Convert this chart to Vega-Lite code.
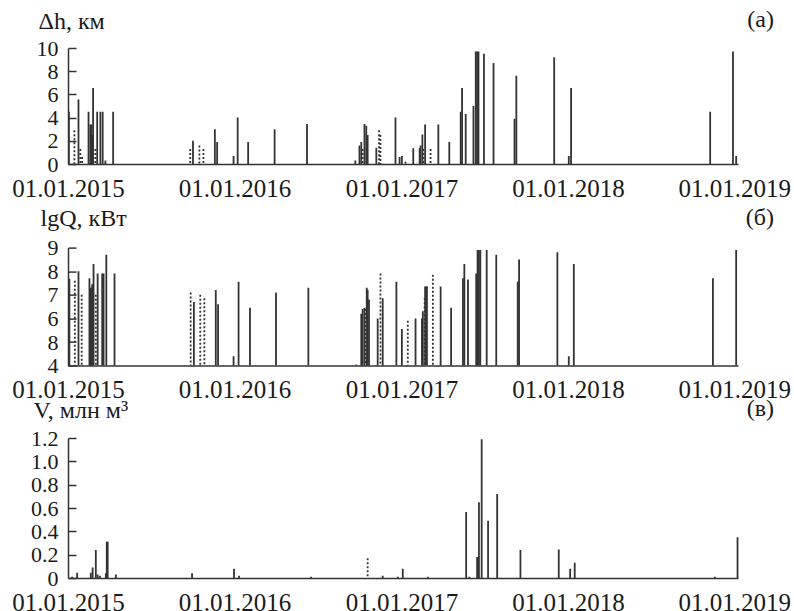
{
  "$schema": "https://vega.github.io/schema/vega-lite/v6.json",
  "padding": {"left": 11, "top": 8, "right": 0, "bottom": 0},
  "spacing": -6,
  "config": {
    "view": {"stroke": null},
    "font": "Liberation Serif",
    "axis": {"domainColor": "#333333", "domainWidth": 1.5, "grid": false, "labelColor": "#1a1a1a", "titleColor": "#1a1a1a", "labelFont": "Liberation Serif", "titleFont": "Liberation Serif", "titleFontWeight": "normal", "tickColor": "#333333", "tickWidth": 1.5},
    "title": {"font": "Liberation Serif", "fontSize": 24, "fontWeight": "normal", "anchor": "end", "color": "#1a1a1a", "frame": "group", "baseline": "alphabetic", "offset": 0}
  },
  "datasets": {
    "dh": [
      {"date": "2015-01-03", "v": 4.5, "s": "solid"},
      {"date": "2015-01-15", "v": 2.9, "s": "dotted"},
      {"date": "2015-01-24", "v": 5.55, "s": "solid"},
      {"date": "2015-01-28", "v": 1.3, "s": "dotted"},
      {"date": "2015-02-01", "v": 0.6, "s": "dotted"},
      {"date": "2015-02-15", "v": 4.5, "s": "solid"},
      {"date": "2015-02-19", "v": 3.4, "s": "solid"},
      {"date": "2015-02-21", "v": 3.4, "s": "solid"},
      {"date": "2015-02-23", "v": 2.5, "s": "solid"},
      {"date": "2015-02-25", "v": 6.55, "s": "solid"},
      {"date": "2015-03-02", "v": 1.3, "s": "dotted"},
      {"date": "2015-03-06", "v": 4.5, "s": "solid"},
      {"date": "2015-03-13", "v": 4.5, "s": "solid"},
      {"date": "2015-03-18", "v": 4.5, "s": "solid"},
      {"date": "2015-03-24", "v": 0.3, "s": "solid"},
      {"date": "2015-04-10", "v": 4.5, "s": "solid"},
      {"date": "2015-09-26", "v": 1.3, "s": "dotted"},
      {"date": "2015-10-02", "v": 2.0, "s": "solid"},
      {"date": "2015-10-16", "v": 1.6, "s": "dotted"},
      {"date": "2015-10-25", "v": 1.3, "s": "dotted"},
      {"date": "2015-11-19", "v": 3.0, "s": "solid"},
      {"date": "2015-11-24", "v": 1.9, "s": "solid"},
      {"date": "2015-12-30", "v": 0.7, "s": "solid"},
      {"date": "2016-01-08", "v": 4.0, "s": "solid"},
      {"date": "2016-01-31", "v": 1.9, "s": "solid"},
      {"date": "2016-03-29", "v": 3.0, "s": "solid"},
      {"date": "2016-06-08", "v": 3.45, "s": "solid"},
      {"date": "2016-09-22", "v": 0.3, "s": "solid"},
      {"date": "2016-10-01", "v": 1.6, "s": "solid"},
      {"date": "2016-10-05", "v": 1.9, "s": "solid"},
      {"date": "2016-10-08", "v": 1.3, "s": "dotted"},
      {"date": "2016-10-12", "v": 3.45, "s": "solid"},
      {"date": "2016-10-16", "v": 3.3, "s": "solid"},
      {"date": "2016-10-19", "v": 2.5, "s": "solid"},
      {"date": "2016-11-07", "v": 1.4, "s": "solid"},
      {"date": "2016-11-13", "v": 2.9, "s": "dotted"},
      {"date": "2016-11-16", "v": 2.5, "s": "dotted"},
      {"date": "2016-12-19", "v": 4.0, "s": "solid"},
      {"date": "2016-12-28", "v": 0.6, "s": "solid"},
      {"date": "2017-01-02", "v": 0.7, "s": "solid"},
      {"date": "2017-01-10", "v": 0.2, "s": "dotted"},
      {"date": "2017-01-27", "v": 1.35, "s": "solid"},
      {"date": "2017-02-10", "v": 1.35, "s": "solid"},
      {"date": "2017-02-12", "v": 1.6, "s": "solid"},
      {"date": "2017-02-16", "v": 2.55, "s": "solid"},
      {"date": "2017-02-18", "v": 1.3, "s": "dotted"},
      {"date": "2017-02-22", "v": 3.4, "s": "solid"},
      {"date": "2017-03-06", "v": 1.3, "s": "dotted"},
      {"date": "2017-03-23", "v": 3.4, "s": "solid"},
      {"date": "2017-04-16", "v": 1.9, "s": "solid"},
      {"date": "2017-05-11", "v": 4.5, "s": "solid"},
      {"date": "2017-05-14", "v": 6.55, "s": "solid"},
      {"date": "2017-05-22", "v": 4.3, "s": "solid"},
      {"date": "2017-06-08", "v": 5.0, "s": "solid"},
      {"date": "2017-06-13", "v": 9.7, "s": "solid"},
      {"date": "2017-06-16", "v": 9.7, "s": "solid"},
      {"date": "2017-06-19", "v": 9.7, "s": "solid"},
      {"date": "2017-07-01", "v": 9.5, "s": "solid"},
      {"date": "2017-07-22", "v": 8.7, "s": "solid"},
      {"date": "2017-09-06", "v": 3.9, "s": "solid"},
      {"date": "2017-09-10", "v": 7.6, "s": "solid"},
      {"date": "2017-12-02", "v": 9.2, "s": "solid"},
      {"date": "2018-01-03", "v": 0.7, "s": "solid"},
      {"date": "2018-01-08", "v": 6.55, "s": "solid"},
      {"date": "2018-11-09", "v": 4.5, "s": "solid"},
      {"date": "2018-12-29", "v": 9.7, "s": "solid"},
      {"date": "2019-01-05", "v": 0.7, "s": "solid"}
    ],
    "lgq": [
      {"date": "2015-01-04", "v": 7.68, "s": "solid"},
      {"date": "2015-01-16", "v": 7.6, "s": "dotted"},
      {"date": "2015-01-24", "v": 8.0, "s": "solid"},
      {"date": "2015-01-31", "v": 7.0, "s": "dotted"},
      {"date": "2015-02-17", "v": 7.7, "s": "solid"},
      {"date": "2015-02-19", "v": 7.3, "s": "solid"},
      {"date": "2015-02-21", "v": 7.3, "s": "solid"},
      {"date": "2015-02-23", "v": 7.45, "s": "solid"},
      {"date": "2015-02-26", "v": 8.3, "s": "solid"},
      {"date": "2015-03-03", "v": 7.0, "s": "dotted"},
      {"date": "2015-03-07", "v": 7.9, "s": "solid"},
      {"date": "2015-03-17", "v": 7.9, "s": "solid"},
      {"date": "2015-03-20", "v": 7.9, "s": "solid"},
      {"date": "2015-03-26", "v": 8.7, "s": "solid"},
      {"date": "2015-04-13", "v": 7.9, "s": "solid"},
      {"date": "2015-09-27", "v": 7.1, "s": "dotted"},
      {"date": "2015-10-04", "v": 6.7, "s": "solid"},
      {"date": "2015-10-18", "v": 7.0, "s": "dotted"},
      {"date": "2015-10-27", "v": 6.85, "s": "dotted"},
      {"date": "2015-11-21", "v": 7.2, "s": "solid"},
      {"date": "2015-11-26", "v": 6.6, "s": "solid"},
      {"date": "2015-12-30", "v": 4.4, "s": "solid"},
      {"date": "2016-01-10", "v": 7.55, "s": "solid"},
      {"date": "2016-02-04", "v": 6.45, "s": "solid"},
      {"date": "2016-04-01", "v": 7.1, "s": "solid"},
      {"date": "2016-06-11", "v": 7.3, "s": "solid"},
      {"date": "2016-09-24", "v": 4.05, "s": "solid"},
      {"date": "2016-10-05", "v": 6.2, "s": "solid"},
      {"date": "2016-10-08", "v": 6.4, "s": "solid"},
      {"date": "2016-10-12", "v": 6.45, "s": "solid"},
      {"date": "2016-10-14", "v": 6.4, "s": "dotted"},
      {"date": "2016-10-17", "v": 7.3, "s": "solid"},
      {"date": "2016-10-19", "v": 7.2, "s": "solid"},
      {"date": "2016-10-22", "v": 6.8, "s": "solid"},
      {"date": "2016-11-10", "v": 6.0, "s": "solid"},
      {"date": "2016-11-16", "v": 7.9, "s": "dotted"},
      {"date": "2016-11-21", "v": 6.85, "s": "solid"},
      {"date": "2016-12-21", "v": 7.55, "s": "solid"},
      {"date": "2017-01-02", "v": 5.55, "s": "solid"},
      {"date": "2017-01-15", "v": 5.9, "s": "dotted"},
      {"date": "2017-02-01", "v": 6.0, "s": "solid"},
      {"date": "2017-02-15", "v": 6.0, "s": "solid"},
      {"date": "2017-02-17", "v": 6.3, "s": "solid"},
      {"date": "2017-02-21", "v": 6.85, "s": "dotted"},
      {"date": "2017-02-22", "v": 7.35, "s": "solid"},
      {"date": "2017-02-24", "v": 7.35, "s": "dotted"},
      {"date": "2017-02-26", "v": 7.35, "s": "solid"},
      {"date": "2017-03-11", "v": 7.85, "s": "dotted"},
      {"date": "2017-03-28", "v": 7.35, "s": "solid"},
      {"date": "2017-04-20", "v": 6.45, "s": "solid"},
      {"date": "2017-05-16", "v": 7.7, "s": "solid"},
      {"date": "2017-05-19", "v": 8.3, "s": "solid"},
      {"date": "2017-05-27", "v": 7.65, "s": "solid"},
      {"date": "2017-06-14", "v": 7.9, "s": "solid"},
      {"date": "2017-06-17", "v": 8.9, "s": "solid"},
      {"date": "2017-06-20", "v": 8.9, "s": "solid"},
      {"date": "2017-06-23", "v": 8.9, "s": "solid"},
      {"date": "2017-07-07", "v": 8.9, "s": "solid"},
      {"date": "2017-07-28", "v": 8.7, "s": "solid"},
      {"date": "2017-09-13", "v": 7.55, "s": "solid"},
      {"date": "2017-09-16", "v": 8.5, "s": "solid"},
      {"date": "2017-12-09", "v": 8.8, "s": "solid"},
      {"date": "2018-01-03", "v": 4.4, "s": "solid"},
      {"date": "2018-01-14", "v": 8.3, "s": "solid"},
      {"date": "2018-11-15", "v": 7.7, "s": "solid"},
      {"date": "2019-01-05", "v": 8.9, "s": "solid"}
    ],
    "vol": [
      {"date": "2015-01-10", "v": 0.01, "s": "solid"},
      {"date": "2015-01-21", "v": 0.045, "s": "solid"},
      {"date": "2015-02-20", "v": 0.045, "s": "solid"},
      {"date": "2015-02-24", "v": 0.09, "s": "solid"},
      {"date": "2015-03-03", "v": 0.24, "s": "solid"},
      {"date": "2015-03-07", "v": 0.03, "s": "solid"},
      {"date": "2015-03-12", "v": 0.02, "s": "solid"},
      {"date": "2015-03-25", "v": 0.04, "s": "solid"},
      {"date": "2015-03-27", "v": 0.31, "s": "solid"},
      {"date": "2015-03-29", "v": 0.31, "s": "solid"},
      {"date": "2015-04-16", "v": 0.03, "s": "solid"},
      {"date": "2015-09-30", "v": 0.04, "s": "solid"},
      {"date": "2015-12-31", "v": 0.08, "s": "solid"},
      {"date": "2016-01-11", "v": 0.02, "s": "solid"},
      {"date": "2016-06-17", "v": 0.01, "s": "solid"},
      {"date": "2016-10-19", "v": 0.17, "s": "dotted"},
      {"date": "2016-11-21", "v": 0.02, "s": "solid"},
      {"date": "2016-12-24", "v": 0.01, "s": "solid"},
      {"date": "2017-01-04", "v": 0.08, "s": "solid"},
      {"date": "2017-02-28", "v": 0.01, "s": "solid"},
      {"date": "2017-05-23", "v": 0.565, "s": "solid"},
      {"date": "2017-05-30", "v": 0.01, "s": "solid"},
      {"date": "2017-06-16", "v": 0.18, "s": "solid"},
      {"date": "2017-06-18", "v": 0.18, "s": "solid"},
      {"date": "2017-06-20", "v": 0.65, "s": "solid"},
      {"date": "2017-06-26", "v": 1.19, "s": "solid"},
      {"date": "2017-07-10", "v": 0.49, "s": "solid"},
      {"date": "2017-07-30", "v": 0.72, "s": "solid"},
      {"date": "2017-09-19", "v": 0.24, "s": "solid"},
      {"date": "2017-12-12", "v": 0.245, "s": "solid"},
      {"date": "2018-01-06", "v": 0.08, "s": "solid"},
      {"date": "2018-01-16", "v": 0.13, "s": "solid"},
      {"date": "2018-11-19", "v": 0.01, "s": "solid"},
      {"date": "2019-01-08", "v": 0.35, "s": "solid"}
    ]
  },
  "vconcat": [
    {
      "spacing": 4.6,
      "vconcat": [
        {
          "width": 670,
          "height": 116,
          "data": {"name": "dh"},
          "title": {"text": "(а)", "dx": 36, "dy": 27},
          "mark": {"type": "rule", "strokeWidth": 1.8, "color": "#333333"},
          "encoding": {
            "x": {"field": "date", "type": "temporal",
              "scale": {"type": "utc", "domain": [{"year": 2015, "month": 1, "date": 1, "utc": true}, {"year": 2019, "month": 1, "date": 9, "utc": true}]},
              "axis": {"title": null, "values": [{"year": 2015, "month": 1, "date": 1, "utc": true}, {"year": 2016, "month": 1, "date": 1, "utc": true}, {"year": 2017, "month": 1, "date": 1, "utc": true}, {"year": 2018, "month": 1, "date": 1, "utc": true}, {"year": 2019, "month": 1, "date": 1, "utc": true}], "format": "%d.%m.%Y", "labelFontSize": 25, "labelPadding": 12, "ticks": false, "labelFlush": false, "labelOverlap": false}},
            "y": {"field": "v", "type": "quantitative",
              "scale": {"domain": [0, 10], "nice": false},
              "axis": {"title": "Δh, км", "titleAngle": 0, "titleAlign": "left", "titleBaseline": "alphabetic", "titleX": -30, "titleY": -20, "titleFontSize": 24, "values": [0, 2, 4, 6, 8, 10], "labelFontSize": 22, "tickSize": -8, "labelPadding": 18}},
            "y2": {"datum": 0},
            "strokeDash": {"field": "s", "type": "nominal", "scale": {"domain": ["solid", "dotted"], "range": [[1, 0], [2, 2]]}, "legend": null}
          }
        },
        {
          "width": 670,
          "height": 118,
          "data": {"name": "lgq"},
          "title": {"text": "(б)", "dx": 36, "dy": 27},
          "mark": {"type": "rule", "strokeWidth": 1.8, "color": "#333333"},
          "encoding": {
            "x": {"field": "date", "type": "temporal",
              "scale": {"type": "utc", "domain": [{"year": 2015, "month": 1, "date": 1, "utc": true}, {"year": 2019, "month": 1, "date": 9, "utc": true}]},
              "axis": {"title": null, "values": [{"year": 2015, "month": 1, "date": 1, "utc": true}, {"year": 2016, "month": 1, "date": 1, "utc": true}, {"year": 2017, "month": 1, "date": 1, "utc": true}, {"year": 2018, "month": 1, "date": 1, "utc": true}, {"year": 2019, "month": 1, "date": 1, "utc": true}], "format": "%d.%m.%Y", "labelFontSize": 25, "labelPadding": 12, "ticks": false, "labelFlush": false, "labelOverlap": false}},
            "y": {"field": "v", "type": "quantitative",
              "scale": {"domain": [4, 9], "nice": false, "zero": false},
              "axis": {"title": "lgQ, кВт", "titleAngle": 0, "titleAlign": "left", "titleBaseline": "alphabetic", "titleX": -28, "titleY": -22, "titleFontSize": 24, "values": [4, 5, 6, 7, 8, 9], "labelExpr": "datum.value == 5 ? '8' : datum.label", "labelFontSize": 22, "tickSize": -8, "labelPadding": 18}},
            "y2": {"datum": 4},
            "strokeDash": {"field": "s", "type": "nominal", "scale": {"domain": ["solid", "dotted"], "range": [[1, 0], [2, 2]]}, "legend": null}
          }
        }
      ]
    },
    {
      "width": 670,
      "height": 140,
      "data": {"name": "vol"},
      "title": {"text": "(в)", "dx": 36, "dy": 27},
      "mark": {"type": "rule", "strokeWidth": 1.8, "color": "#333333"},
      "encoding": {
        "x": {"field": "date", "type": "temporal",
          "scale": {"type": "utc", "domain": [{"year": 2015, "month": 1, "date": 1, "utc": true}, {"year": 2019, "month": 1, "date": 9, "utc": true}]},
          "axis": {"title": null, "values": [{"year": 2015, "month": 1, "date": 1, "utc": true}, {"year": 2016, "month": 1, "date": 1, "utc": true}, {"year": 2017, "month": 1, "date": 1, "utc": true}, {"year": 2018, "month": 1, "date": 1, "utc": true}, {"year": 2019, "month": 1, "date": 1, "utc": true}], "format": "%d.%m.%Y", "labelFontSize": 25, "labelPadding": 12, "ticks": false, "labelFlush": false, "labelOverlap": false}},
        "y": {"field": "v", "type": "quantitative",
          "scale": {"domain": [0, 1.2], "nice": false},
          "axis": {"title": "V, млн м³", "titleAngle": 0, "titleAlign": "left", "titleBaseline": "alphabetic", "titleX": -35, "titleY": -21, "titleFontSize": 24, "values": [0, 0.2, 0.4, 0.6, 0.8, 1.0, 1.2], "labelExpr": "datum.value == 0 ? '0' : format(datum.value, '.1f')", "labelFontSize": 22, "tickSize": -8, "labelPadding": 18}},
        "y2": {"datum": 0},
        "strokeDash": {"field": "s", "type": "nominal", "scale": {"domain": ["solid", "dotted"], "range": [[1, 0], [2, 2]]}, "legend": null}
      }
    }
  ]
}
